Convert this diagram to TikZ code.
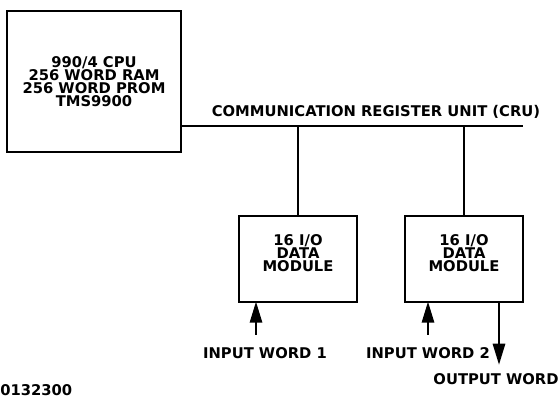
\documentclass[tikz,border=0pt]{standalone}
\usepackage{fontspec}
\setmainfont{DejaVu Sans}
\usetikzlibrary{arrows.meta, positioning}

\begin{document}
\begin{tikzpicture}[x=0.02cm, y=-0.02cm, font=\bfseries\fontsize{8.4}{7.3}\selectfont,
  unit/.style={draw, line width=1.6pt, align=center, inner sep=0pt},
  wire/.style={line width=1.2pt},
  sig/.style={line width=1.2pt, shorten >=-1pt, -{Triangle[length=12pt, width=7pt]}}]
  \useasboundingbox (0,0) rectangle (559,398);
  % CPU board
  \node[unit, minimum width=3.48cm, minimum height=2.82cm] (cpu) at (94,81.5)
    {990/4 CPU\\256 WORD RAM\\256 WORD PROM\\TMS9900};
  % I/O modules
  \node[unit, text depth=7pt, minimum width=2.36cm, minimum height=1.72cm] (mod1) at (298,259)
    {16 I/O\\DATA\\MODULE};
  \node[unit, text depth=7pt, minimum width=2.36cm, minimum height=1.72cm] (mod2) at (464,259)
    {16 I/O\\DATA\\MODULE};
  % CRU bus
  \coordinate (busend) at (523,126);
  \draw[wire] (cpu.east |- busend) -- (busend);
  \node (crulbl) at (376,112) {COMMUNICATION REGISTER UNIT (CRU)};
  \draw[wire] (mod1.north |- busend) -- (mod1.north);
  \draw[wire] (mod2.north |- busend) -- (mod2.north);
  % Input and output words
  \coordinate (in1) at (256,335);
  \coordinate (in2) at (428,335);
  \coordinate (out) at (499,363);
  \draw[sig] (in1) -- (in1 |- mod1.south);
  \draw[sig] (in2) -- (in2 |- mod2.south);
  \draw[sig] (mod2.south -| out) -- (out);
  \node (in1lbl) at (265,353) {INPUT WORD 1};
  \node (in2lbl) at (428,353) {INPUT WORD 2};
  \node (outlbl) at (496,379) {OUTPUT WORD};
  % Figure number
  \node[anchor=west, inner sep=0pt] (fignum) at (0,390) {0132300};
\end{tikzpicture}
\end{document}
